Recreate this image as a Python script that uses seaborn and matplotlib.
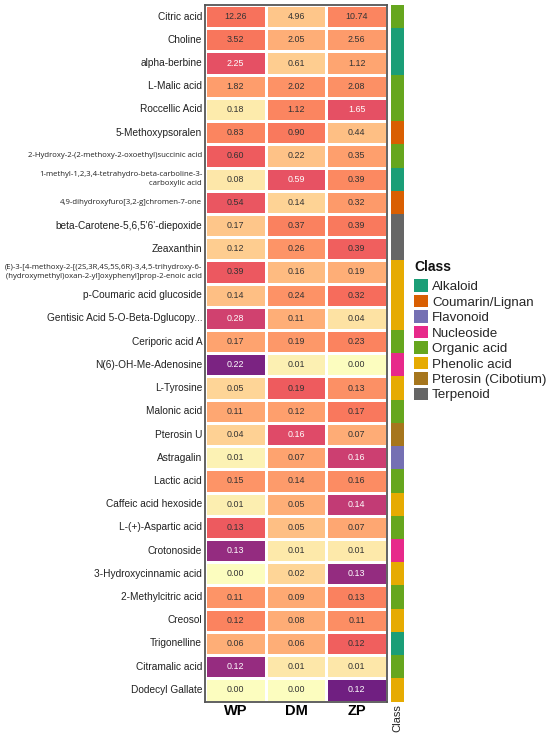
import numpy as np
import pandas as pd
import matplotlib
matplotlib.use("Agg")
import matplotlib.pyplot as plt
from matplotlib.colors import ListedColormap
from matplotlib.patches import Patch
import seaborn as sns

sns.set_theme(style="white")
plt.rcParams['font.family'] = ['Liberation Sans', 'DejaVu Sans']

compounds = [
    "Citric acid", "Choline", "alpha-berbine", "L-Malic acid", "Roccellic Acid",
    "5-Methoxypsoralen", "2-Hydroxy-2-(2-methoxy-2-oxoethyl)succinic acid",
    "1-methyl-1,2,3,4-tetrahydro-beta-carboline-3-\ncarboxylic acid",
    "4,9-dihydroxyfuro[3,2-g]chromen-7-one", "beta-Carotene-5,6,5'6'-diepoxide",
    "Zeaxanthin",
    "(E)-3-[4-methoxy-2-[(2S,3R,4S,5S,6R)-3,4,5-trihydroxy-6-\n(hydroxymethyl)oxan-2-yl]oxyphenyl]prop-2-enoic acid",
    "p-Coumaric acid glucoside", "Gentisic Acid 5-O-Beta-Dglucopy...",
    "Ceriporic acid A", "N(6)-OH-Me-Adenosine", "L-Tyrosine", "Malonic acid",
    "Pterosin U", "Astragalin", "Lactic acid", "Caffeic acid hexoside",
    "L-(+)-Aspartic acid", "Crotonoside", "3-Hydroxycinnamic acid",
    "2-Methylcitric acid", "Creosol", "Trigonelline", "Citramalic acid",
    "Dodecyl Gallate",
]
small_labels = {
    "2-Hydroxy-2-(2-methoxy-2-oxoethyl)succinic acid",
    "1-methyl-1,2,3,4-tetrahydro-beta-carboline-3-\ncarboxylic acid",
    "4,9-dihydroxyfuro[3,2-g]chromen-7-one",
    "(E)-3-[4-methoxy-2-[(2S,3R,4S,5S,6R)-3,4,5-trihydroxy-6-\n(hydroxymethyl)oxan-2-yl]oxyphenyl]prop-2-enoic acid",
}
groups = ["WP", "DM", "ZP"]
WP = [12.26, 3.52, 2.25, 1.82, 0.18, 0.83, 0.60, 0.08, 0.54, 0.17, 0.12, 0.39, 0.14, 0.28, 0.17,
      0.22, 0.05, 0.11, 0.04, 0.01, 0.15, 0.01, 0.13, 0.13, 0.00, 0.11, 0.12, 0.06, 0.12, 0.00]
DM = [4.96, 2.05, 0.61, 2.02, 1.12, 0.90, 0.22, 0.59, 0.14, 0.37, 0.26, 0.16, 0.24, 0.11, 0.19,
      0.01, 0.19, 0.12, 0.16, 0.07, 0.14, 0.05, 0.05, 0.01, 0.02, 0.09, 0.08, 0.06, 0.01, 0.00]
ZP = [10.74, 2.56, 1.12, 2.08, 1.65, 0.44, 0.35, 0.39, 0.32, 0.39, 0.39, 0.19, 0.32, 0.04, 0.23,
      0.00, 0.13, 0.17, 0.07, 0.16, 0.16, 0.14, 0.07, 0.01, 0.13, 0.13, 0.11, 0.12, 0.01, 0.12]
compound_class = [
    "Organic acid", "Alkaloid", "Alkaloid", "Organic acid", "Organic acid",
    "Coumarin/Lignan", "Organic acid", "Alkaloid", "Coumarin/Lignan", "Terpenoid",
    "Terpenoid", "Phenolic acid", "Phenolic acid", "Phenolic acid", "Organic acid",
    "Nucleoside", "Phenolic acid", "Organic acid", "Pterosin (Cibotium)", "Flavonoid",
    "Organic acid", "Phenolic acid", "Organic acid", "Nucleoside", "Phenolic acid",
    "Organic acid", "Phenolic acid", "Alkaloid", "Organic acid", "Phenolic acid",
]
class_names = ["Alkaloid", "Coumarin/Lignan", "Flavonoid", "Nucleoside",
               "Organic acid", "Phenolic acid", "Pterosin (Cibotium)", "Terpenoid"]
class_colors = ["#1B9E77", "#D95F02", "#7570B3", "#E7298A",
                "#66A61E", "#E6AB02", "#A6761D", "#666666"]

vals = pd.DataFrame({"WP": WP, "DM": DM, "ZP": ZP}, index=compounds)[groups]
frac = vals.div(vals.sum(axis=1), axis=0)

magma = plt.get_cmap("magma")
cmap = ListedColormap(magma(np.linspace(1.0, 0.33, 256)))

fig = plt.figure(figsize=(5.5, 7.36), dpi=100)
W, H = 550, 736
ax = fig.add_axes([205 / W, 1 - 701.5 / H, 182 / W, 696.5 / H])
cax = fig.add_axes([391 / W, 1 - 701.5 / H, 13 / W, 696.5 / H])

sns.heatmap(frac, ax=ax, cmap=cmap, vmin=0, vmax=1, cbar=False,
            linewidths=1.0, linecolor="white", annot=False)
for i in range(len(compounds)):
    for j, g in enumerate(groups):
        f = frac.iloc[i, j]
        col = "white" if f > 0.55 else "#333333"
        ax.text(j + 0.5, i + 0.5, f"{vals.iloc[i, j]:.2f}", ha="center", va="center",
                fontsize=6.4, color=col)

ax.set_xticks(np.arange(3) + 0.5)
ax.set_xticklabels(groups, fontsize=10.5, fontweight="bold", color="black")
ax.set_yticks(np.arange(len(compounds)) + 0.5)
ax.set_yticklabels(compounds, rotation=0)
for lbl in ax.get_yticklabels():
    t = lbl.get_text()
    if t in small_labels:
        lbl.set_fontsize(5.55)
        lbl.set_family(["Open Sans", "DejaVu Sans"])
        lbl.set_linespacing(1.4)
        lbl.set_ha("right")
        lbl.set_multialignment("right")
    else:
        lbl.set_fontsize(7.25)
    lbl.set_color("#222222")
ax.tick_params(axis="both", length=0, pad=2)
ax.set_xlabel("")
ax.set_ylabel("")
for s in ax.spines.values():
    s.set_visible(True)
    s.set_color("#555555")
    s.set_linewidth(1.3)

codes = np.array([[class_names.index(c)] for c in compound_class])
sns.heatmap(codes, ax=cax, cmap=ListedColormap(class_colors), vmin=-0.5, vmax=7.5,
            cbar=False, linewidths=0)
cax.set_yticks([])
cax.set_xticks([0.5])
cax.set_xticklabels(["Class"], rotation=90, fontsize=8, color="#222222")
cax.tick_params(axis="both", length=0, pad=2)

fig.text(414 / W, 1 - 267 / H, "Class", fontsize=10, fontweight="bold",
         ha="left", va="center", color="#111111")
handles = [Patch(facecolor=c, edgecolor="none", label=n) for n, c in zip(class_names, class_colors)]
leg = fig.legend(handles=handles, loc="upper left",
                 bbox_to_anchor=(414 / W, 1 - 279.5 / H), frameon=False,
                 fontsize=9.6, handlelength=1.05, handleheight=1.05, handletextpad=0.3,
                 labelspacing=0.13, borderpad=0, borderaxespad=0)

fig.savefig("out.png", dpi=100)
